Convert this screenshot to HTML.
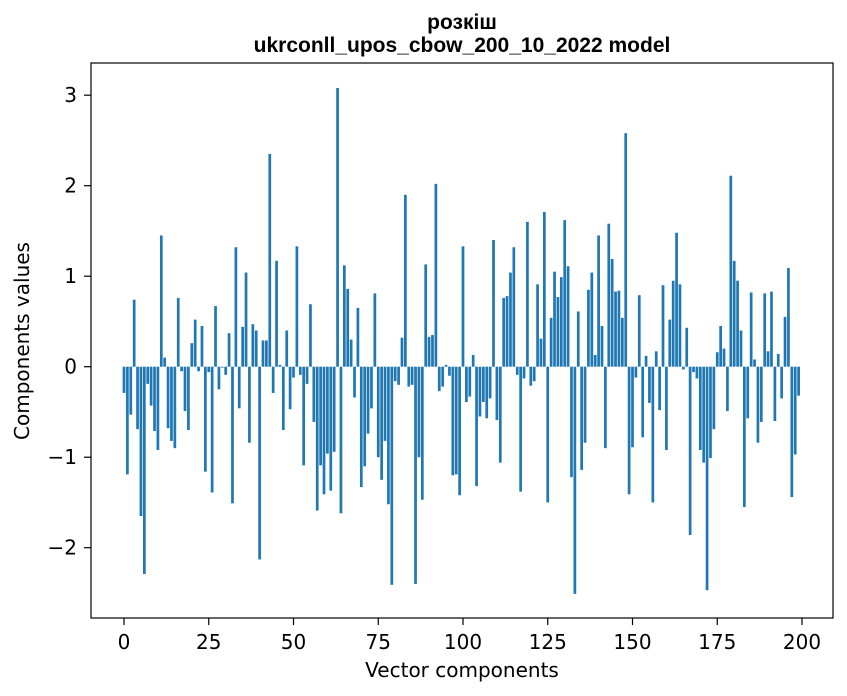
<!DOCTYPE html>
<html><head><meta charset="utf-8"><style>
html,body{margin:0;padding:0;background:#fff;}
svg{display:block;font-family:"DejaVu Sans","Liberation Sans",sans-serif;}
</style></head><body>
<svg id="chart" width="847" height="696">
<rect width="847" height="696" fill="#fff"/>
<text x="462" y="29" text-anchor="middle" font-size="21" font-weight="bold" font-family="Liberation Sans, sans-serif">розкіш</text>
<text x="462" y="52" text-anchor="middle" font-size="21" font-weight="bold" font-family="Liberation Sans, sans-serif">ukrconll_upos_cbow_200_10_2022 model</text>
<g id="bars"></g>
<g id="xticks"></g>
<g id="yticks"></g>
<rect x="91" y="63" width="742" height="555" fill="none" stroke="#000" stroke-width="1.2"/>
<text x="462" y="677" text-anchor="middle" font-size="20">Vector components</text>
<text transform="translate(29,341) rotate(-90)" text-anchor="middle" font-size="20">Components values</text>
</svg>
<script>
const values = [-0.29,-1.19,-0.53,0.74,-0.69,-1.65,-2.29,-0.19,-0.43,-0.71,
-0.92,1.45,0.10,-0.68,-0.82,-0.90,0.76,-0.05,-0.49,-0.70,
0.26,0.52,-0.05,0.45,-1.16,-0.06,-1.39,0.67,-0.25,-0.01,
-0.09,0.37,-1.51,1.32,-0.46,0.44,1.04,-0.84,0.47,0.40,
-2.13,0.29,0.29,2.35,-0.29,1.17,0.02,-0.70,0.40,-0.47,
-0.12,1.33,-0.09,-1.09,-0.19,0.69,-0.61,-1.59,-1.09,-1.41,
-0.96,-1.37,-0.94,3.08,-1.62,1.12,0.86,0.30,-0.34,0.65,
-1.33,-1.10,-0.74,-0.46,0.81,-1.00,-1.25,-0.82,-1.52,-2.41,
-0.16,-0.20,0.32,1.90,-0.22,-0.20,-2.40,-1.00,-1.47,1.13,
0.33,0.35,2.02,-0.27,-0.22,0.02,-0.10,-1.20,-1.19,-1.42,
1.33,-0.39,-0.33,0.13,-1.32,-0.55,-0.39,-0.57,-0.35,1.40,
-0.59,-1.06,0.76,0.78,1.04,1.32,-0.09,-1.38,-0.13,1.60,
-0.21,-0.16,0.91,0.31,1.71,-1.50,0.54,1.05,0.77,0.99,
1.62,1.11,-1.22,-2.51,0.61,-1.14,-0.84,0.85,1.04,0.13,
1.45,0.45,-0.90,1.58,1.19,0.83,0.84,0.54,2.58,-1.41,
-0.89,-0.12,0.79,-0.78,0.12,-0.40,-1.50,0.17,-0.48,0.90,
-0.92,0.52,0.95,1.48,0.91,-0.03,0.43,-1.86,-0.06,-0.13,
-0.92,-1.06,-2.47,-1.01,-0.69,0.16,0.45,0.20,-0.49,2.11,
1.17,0.95,0.40,-1.55,-0.57,0.82,0.08,-0.84,-0.61,0.81,
0.17,0.83,-0.60,0.14,-0.35,0.55,1.09,-1.44,-0.97,-0.32];
const xTicks = [0,25,50,75,100,125,150,175,200];
const yTicks = [-2,-1,0,1,2,3];
const NS = "http://www.w3.org/2000/svg";
function xs(v){ return 124 + v*3.39; }
function ys(v){ return 366.7 - v*90.5; }
const bars = document.getElementById('bars');
values.forEach((v,i)=>{
  const r = document.createElementNS(NS,'rect');
  const w = 0.8*3.39;
  r.setAttribute('x', xs(i)-w/2);
  r.setAttribute('y', Math.min(ys(v), ys(0)));
  r.setAttribute('width', w);
  r.setAttribute('height', Math.abs(ys(v)-ys(0)));
  r.setAttribute('fill', '#1f77b4');
  
  
  bars.appendChild(r);
});
const xg = document.getElementById('xticks');
xTicks.forEach(t=>{
  const l = document.createElementNS(NS,'line');
  l.setAttribute('x1', xs(t)); l.setAttribute('x2', xs(t));
  l.setAttribute('y1', 618); l.setAttribute('y2', 625);
  l.setAttribute('stroke', '#000');
  l.setAttribute('stroke-width', '1.2');
  
  
  xg.appendChild(l);
  const tx = document.createElementNS(NS,'text');
  tx.setAttribute('x', xs(t)); tx.setAttribute('y', 649);
  tx.setAttribute('text-anchor', 'middle'); tx.setAttribute('font-size', '20');
  tx.textContent = t;
  
  
  xg.appendChild(tx);
});
const yg = document.getElementById('yticks');
yTicks.forEach(t=>{
  const l = document.createElementNS(NS,'line');
  l.setAttribute('x1', 84); l.setAttribute('x2', 91);
  l.setAttribute('y1', ys(t)); l.setAttribute('y2', ys(t));
  l.setAttribute('stroke', '#000');
  l.setAttribute('stroke-width', '1.2');
  
  
  yg.appendChild(l);
  const tx = document.createElementNS(NS,'text');
  tx.setAttribute('x', 77); tx.setAttribute('y', ys(t)+7);
  tx.setAttribute('text-anchor', 'end'); tx.setAttribute('font-size', '20');
  tx.textContent = t < 0 ? '\u2212' + Math.abs(t) : String(t);
  
  
  yg.appendChild(tx);
});
</script>
</body></html>
